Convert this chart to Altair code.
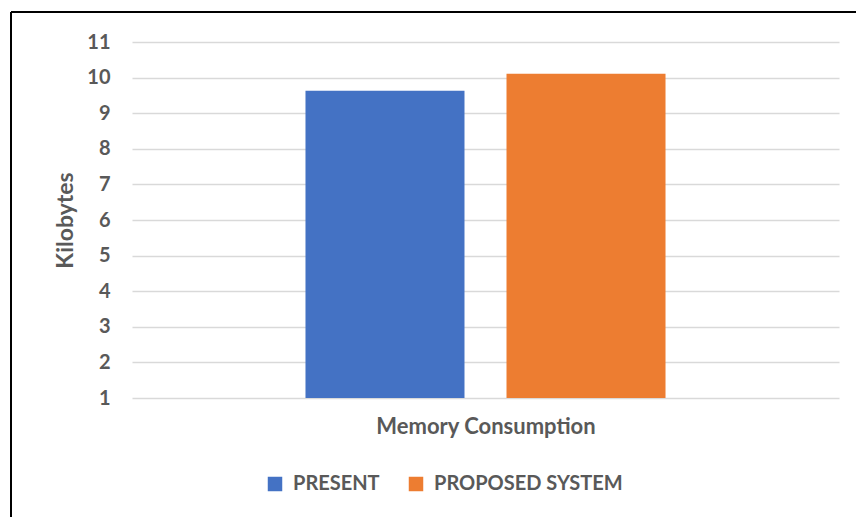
import altair as alt
import pandas as pd

category = ["Memory Consumption"]
series = ["PRESENT", "PROPOSED SYSTEM"]
values = [9.63, 10.11]
colors = ["#4472C4", "#ED7D31"]
y_ticks = list(range(1, 12))

df = pd.DataFrame({"series": series, "value": values, "category": category * len(series)})

FONT = "Lato"
GRAY = "#595959"

bars = alt.Chart(df).mark_bar().encode(
    x=alt.X("series:N", sort=series,
            scale=alt.Scale(paddingInner=0.209, paddingOuter=0.863),
            axis=alt.Axis(labels=False, ticks=False, domain=False, title="Memory Consumption",
                          titleFont=FONT, titleFontSize=22, titleFontWeight="bold",
                          titleColor=GRAY, titlePadding=18)),
    y=alt.Y("value:Q", scale=alt.Scale(domain=[1, 11], nice=False, zero=False),
            axis=alt.Axis(values=y_ticks, title="Kilobytes", ticks=False, domain=False,
                          labelFont=FONT, labelFontSize=20, labelFontWeight="bold",
                          labelColor=GRAY, labelPadding=22,
                          titleFont=FONT, titleFontSize=23, titleFontWeight="bold",
                          titleColor=GRAY, titlePadding=9,
                          gridColor="#d9d9d9", gridWidth=1.5)),
    y2=alt.datum(1),
    color=alt.Color("series:N", sort=series,
                    scale=alt.Scale(domain=series, range=colors),
                    legend=alt.Legend(title=None, orient="none", direction="horizontal",
                                      legendX=133, legendY=432,
                                      symbolType="square", symbolSize=210,
                                      symbolStrokeWidth=0, symbolOpacity=1,
                                      labelFont=FONT, labelFontSize=20, labelFontWeight="bold",
                                      labelColor=GRAY, labelLimit=0,
                                      columnPadding=26, labelOffset=8)),
)

frame_top = alt.Chart(df).mark_rule(color="black", strokeWidth=2).encode(
    x=alt.value(-121), x2=alt.value(740), y=alt.value(-30)
)
frame_left = alt.Chart(df).mark_rule(color="black", strokeWidth=2).encode(
    x=alt.value(-121), y=alt.value(-30), y2=alt.value(500)
)

chart = alt.layer(bars, frame_top, frame_left).properties(
    width=707, height=356,
    autosize=alt.AutoSizeParams(type="none"),
    padding={"left": 132, "top": 42, "right": 17, "bottom": 119},
    background="white",
).configure_view(stroke=None)

chart.save("out.html", embed_options={"renderer": "svg", "actions": False})
